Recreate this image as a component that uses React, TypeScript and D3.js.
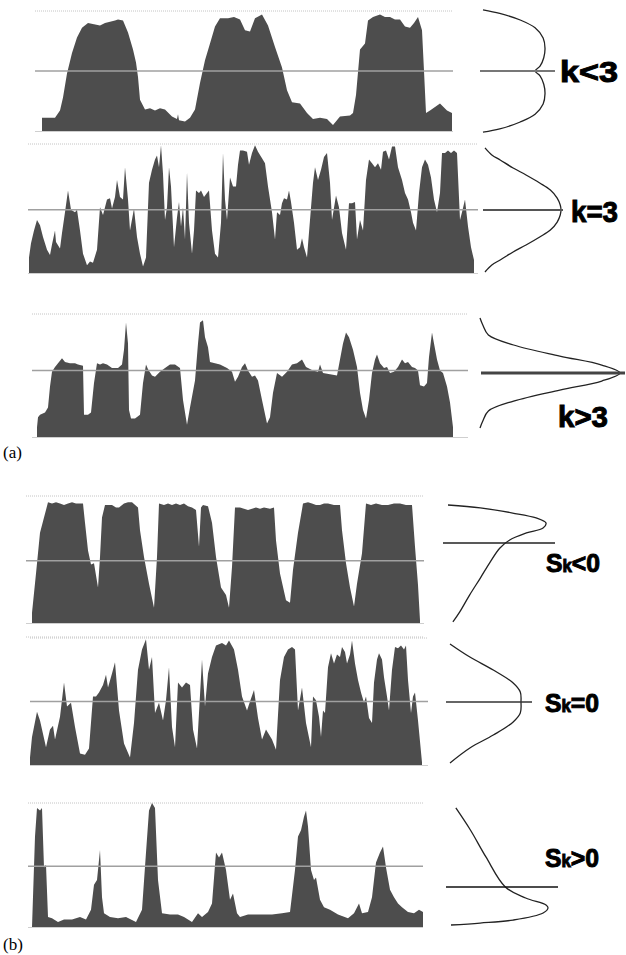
import React from "react";
import * as d3 from "d3";

// series values: [sample index, level 0..1]
const kLess3: [number, number][] = [
  [0, 0.11], [13, 0.11], [18, 0.17], [21, 0.28], [25, 0.48], [30, 0.65], [35, 0.78], [40, 0.86], [46, 0.9],
  [52, 0.89], [58, 0.88], [63, 0.9], [68, 0.91], [73, 0.92], [76, 0.93], [81, 0.92], [86, 0.82], [91, 0.68],
  [94, 0.57], [96, 0.45], [98, 0.26], [103, 0.18], [108, 0.19], [113, 0.17], [118, 0.19], [123, 0.18],
  [130, 0.12], [135, 0.1], [136, 0.14], [137, 0.09], [143, 0.08], [148, 0.11], [153, 0.18], [158, 0.4],
  [163, 0.59], [168, 0.73], [173, 0.87], [178, 0.94], [186, 0.94], [192, 0.95], [198, 0.93], [203, 0.84],
  [208, 0.83], [213, 0.94], [220, 0.97], [226, 0.88], [233, 0.7], [240, 0.53], [245, 0.34], [250, 0.24],
  [258, 0.23], [265, 0.15], [271, 0.1], [278, 0.11], [285, 0.1], [291, 0.05], [298, 0.12], [308, 0.13],
  [311, 0.15], [314, 0.3], [318, 0.68], [323, 0.73], [326, 0.92], [331, 0.95], [338, 0.97], [343, 0.95],
  [348, 0.95], [353, 0.93], [358, 0.93], [363, 0.87], [368, 0.86], [372, 0.9], [376, 0.95], [380, 0.84],
  [382, 0.5], [384, 0.15], [388, 0.17], [393, 0.2], [398, 0.23], [405, 0.17], [410, 0.15],
];

const kEqual3: [number, number][] = [
  [0, 0.12], [2, 0.23], [5, 0.33], [8, 0.41], [11, 0.37], [14, 0.28], [18, 0.18], [21, 0.14], [23, 0.22],
  [26, 0.33], [27, 0.24], [31, 0.19], [33, 0.31], [36, 0.47], [39, 0.64], [42, 0.49], [46, 0.47], [48, 0.49],
  [51, 0.33], [54, 0.15], [58, 0.06], [61, 0.09], [64, 0.08], [68, 0.18], [71, 0.51], [74, 0.45], [78, 0.57],
  [81, 0.58], [83, 0.5], [86, 0.59], [88, 0.72], [91, 0.59], [94, 0.57], [96, 0.82], [99, 0.57], [101, 0.33],
  [105, 0.5], [108, 0.28], [111, 0.15], [114, 0.05], [117, 0.12], [120, 0.7], [123, 0.8], [126, 0.88],
  [128, 0.91], [130, 0.82], [132, 0.99], [134, 0.77], [136, 0.41], [138, 0.51], [140, 0.82], [142, 0.67],
  [145, 0.2], [148, 0.43], [150, 0.55], [152, 0.36], [154, 0.51], [156, 0.26], [158, 0.78], [160, 0.39],
  [163, 0.15], [165, 0.33], [167, 0.64], [170, 0.62], [172, 0.64], [175, 0.59], [178, 0.62], [180, 0.64],
  [183, 0.33], [186, 0.15], [189, 0.12], [192, 0.39], [194, 0.93], [196, 0.57], [198, 0.41], [201, 0.74],
  [204, 0.67], [207, 0.67], [209, 0.84], [211, 0.95], [214, 0.95], [218, 0.94], [220, 0.84], [223, 0.93],
  [226, 0.99], [229, 0.94], [233, 0.89], [236, 0.85], [239, 0.67], [243, 0.47], [246, 0.26], [248, 0.47],
  [251, 0.45], [253, 0.54], [255, 0.58], [258, 0.57], [260, 0.64], [262, 0.55], [265, 0.39], [268, 0.18],
  [271, 0.2], [273, 0.27], [275, 0.2], [278, 0.12], [281, 0.41], [284, 0.7], [286, 0.82], [289, 0.72],
  [292, 0.8], [295, 0.9], [298, 0.93], [301, 0.7], [303, 0.41], [307, 0.6], [310, 0.51], [313, 0.31],
  [317, 0.18], [320, 0.54], [323, 0.54], [326, 0.55], [328, 0.26], [331, 0.41], [334, 0.33], [337, 0.72],
  [340, 0.88], [343, 0.85], [346, 0.82], [349, 0.85], [352, 0.8], [354, 0.94], [357, 0.95], [360, 0.88],
  [363, 0.98], [366, 0.98], [369, 0.82], [373, 0.72], [376, 0.62], [379, 0.57], [382, 0.47], [384, 0.39],
  [387, 0.33], [390, 0.62], [393, 0.82], [396, 0.88], [399, 0.84], [402, 0.74], [405, 0.57], [408, 0.47],
  [411, 0.62], [413, 0.93], [416, 0.93], [419, 0.95], [422, 0.93], [425, 0.95], [428, 0.93], [431, 0.41],
  [433, 0.47], [436, 0.57], [439, 0.36], [442, 0.2], [445, 0.1],
];

const kMore3: [number, number][] = [
  [0, 0.08], [1, 0.16], [3, 0.18], [8, 0.2], [11, 0.24], [13, 0.41], [15, 0.53], [18, 0.57], [21, 0.6],
  [25, 0.64], [28, 0.61], [33, 0.6], [38, 0.6], [41, 0.59], [46, 0.58], [47, 0.18], [51, 0.18], [54, 0.2],
  [57, 0.44], [60, 0.6], [63, 0.59], [66, 0.6], [70, 0.59], [75, 0.56], [81, 0.56], [85, 0.59], [87, 0.71],
  [89, 0.93], [91, 0.76], [92, 0.22], [94, 0.15], [98, 0.15], [103, 0.18], [106, 0.44], [109, 0.59],
  [111, 0.55], [115, 0.5], [118, 0.49], [123, 0.53], [128, 0.56], [133, 0.59], [138, 0.59], [143, 0.56],
  [146, 0.3], [150, 0.1], [153, 0.24], [158, 0.46], [161, 0.76], [163, 0.93], [166, 0.95], [168, 0.81],
  [171, 0.73], [173, 0.61], [178, 0.6], [183, 0.59], [190, 0.56], [195, 0.53], [198, 0.45], [201, 0.49],
  [205, 0.57], [208, 0.6], [211, 0.54], [215, 0.49], [218, 0.5], [221, 0.46], [225, 0.3], [230, 0.11],
  [233, 0.16], [236, 0.36], [240, 0.52], [245, 0.49], [250, 0.53], [255, 0.59], [260, 0.6], [265, 0.63],
  [269, 0.57], [276, 0.54], [281, 0.53], [283, 0.59], [286, 0.52], [293, 0.51], [300, 0.5], [303, 0.63],
  [306, 0.76], [309, 0.85], [312, 0.81], [316, 0.71], [320, 0.57], [323, 0.36], [326, 0.22], [329, 0.15],
  [332, 0.3], [335, 0.52], [338, 0.63], [340, 0.67], [343, 0.6], [347, 0.56], [350, 0.57], [353, 0.52],
  [357, 0.53], [361, 0.57], [365, 0.63], [368, 0.6], [371, 0.61], [375, 0.57], [378, 0.56], [381, 0.54],
  [383, 0.42], [387, 0.41], [390, 0.44], [392, 0.65], [395, 0.85], [397, 0.76], [400, 0.63], [403, 0.54],
  [406, 0.52], [410, 0.41], [413, 0.28], [416, 0.08],
];

const skLess0: [number, number][] = [
  [0, 0.08], [4, 0.39], [8, 0.71], [12, 0.83], [16, 0.95], [20, 0.94], [24, 0.95], [28, 0.94], [32, 0.93],
  [36, 0.94], [40, 0.95], [44, 0.94], [48, 0.94], [51, 0.94], [53, 0.79], [56, 0.57], [59, 0.46], [62, 0.47],
  [66, 0.28], [68, 0.52], [70, 0.83], [73, 0.93], [80, 0.93], [84, 0.91], [87, 0.91], [92, 0.94], [96, 0.95],
  [100, 0.95], [106, 0.91], [108, 0.73], [112, 0.52], [117, 0.31], [122, 0.12], [125, 0.52], [127, 0.94],
  [132, 0.93], [136, 0.94], [140, 0.93], [144, 0.94], [148, 0.93], [152, 0.94], [156, 0.92], [160, 0.91],
  [164, 0.89], [167, 0.6], [169, 0.91], [171, 0.93], [176, 0.92], [180, 0.79], [184, 0.52], [189, 0.28],
  [194, 0.22], [197, 0.12], [200, 0.44], [203, 0.91], [208, 0.91], [212, 0.9], [216, 0.89], [220, 0.9],
  [224, 0.91], [228, 0.9], [232, 0.91], [238, 0.9], [242, 0.91], [244, 0.65], [248, 0.39], [254, 0.18],
  [258, 0.16], [261, 0.42], [266, 0.71], [271, 0.94], [276, 0.95], [280, 0.94], [284, 0.93], [288, 0.93],
  [292, 0.94], [296, 0.94], [302, 0.93], [308, 0.93], [310, 0.73], [314, 0.47], [318, 0.28], [322, 0.13],
  [325, 0.31], [330, 0.55], [334, 0.94], [339, 0.93], [344, 0.94], [350, 0.93], [356, 0.93], [362, 0.94],
  [368, 0.94], [374, 0.93], [380, 0.93], [383, 0.6], [386, 0.3], [388, 0.02],
];

const skEqual0: [number, number][] = [
  [0, 0.06], [2, 0.22], [7, 0.42], [10, 0.35], [16, 0.14], [20, 0.28], [23, 0.31], [25, 0.2], [30, 0.38],
  [34, 0.65], [37, 0.46], [41, 0.49], [45, 0.3], [50, 0.09], [55, 0.08], [59, 0.13], [63, 0.54], [66, 0.54],
  [69, 0.57], [73, 0.63], [76, 0.71], [78, 0.61], [82, 0.72], [85, 0.81], [89, 0.43], [94, 0.17], [100, 0.06],
  [104, 0.33], [108, 0.75], [112, 0.91], [116, 0.99], [119, 0.75], [122, 0.85], [125, 0.41], [129, 0.49],
  [133, 0.35], [136, 0.51], [139, 0.77], [142, 0.3], [145, 0.14], [148, 0.65], [152, 0.61], [156, 0.65],
  [160, 0.63], [163, 0.28], [167, 0.13], [172, 0.83], [175, 0.46], [178, 0.72], [182, 0.85], [186, 0.94],
  [192, 0.96], [196, 0.94], [199, 0.98], [204, 0.91], [208, 0.75], [212, 0.54], [217, 0.43], [220, 0.5],
  [224, 0.59], [228, 0.37], [232, 0.2], [236, 0.28], [242, 0.2], [246, 0.12], [250, 0.67], [254, 0.85],
  [258, 0.91], [262, 0.93], [265, 0.91], [268, 0.43], [272, 0.61], [276, 0.33], [281, 0.14], [283, 0.54],
  [286, 0.51], [289, 0.38], [291, 0.22], [293, 0.43], [295, 0.41], [298, 0.77], [301, 0.88], [304, 0.8],
  [307, 0.87], [310, 0.85], [312, 0.93], [315, 0.89], [317, 0.8], [320, 0.87], [322, 0.98], [325, 0.8],
  [328, 0.67], [331, 0.57], [334, 0.49], [336, 0.54], [339, 0.37], [342, 0.33], [344, 0.65], [347, 0.83],
  [349, 0.88], [352, 0.83], [354, 0.69], [357, 0.54], [359, 0.43], [362, 0.75], [365, 0.93], [368, 0.92],
  [371, 0.94], [374, 0.91], [376, 0.94], [378, 0.67], [381, 0.41], [383, 0.54], [385, 0.57], [388, 0.35],
  [392, 0.02],
];

const skMore0: [number, number][] = [
  [0, 0], [3, 0.73], [5, 0.96], [8, 0.94], [10, 0.96], [12, 0.48], [14, 0.5], [16, 0.08], [20, 0.07],
  [26, 0.04], [32, 0.06], [40, 0.06], [48, 0.08], [54, 0.06], [59, 0.14], [62, 0.34], [65, 0.38], [68, 0.62],
  [70, 0.24], [72, 0.11], [78, 0.08], [86, 0.07], [94, 0.08], [104, 0.04], [110, 0.14], [114, 0.6],
  [117, 0.94], [120, 1.0], [123, 0.96], [126, 0.38], [130, 0.11], [138, 0.1], [146, 0.1], [152, 0.08],
  [160, 0.04], [166, 0.11], [170, 0.08], [176, 0.12], [180, 0.19], [184, 0.6], [187, 0.56], [190, 0.6],
  [194, 0.46], [198, 0.22], [201, 0.27], [205, 0.11], [208, 0.08], [216, 0.1], [228, 0.1], [240, 0.1],
  [250, 0.11], [258, 0.12], [263, 0.46], [266, 0.73], [269, 0.78], [272, 0.89], [274, 0.94], [276, 0.81],
  [279, 0.46], [282, 0.38], [284, 0.4], [288, 0.22], [292, 0.16], [298, 0.14], [306, 0.1], [316, 0.07],
  [322, 0.11], [327, 0.19], [330, 0.11], [336, 0.12], [340, 0.24], [344, 0.52], [348, 0.6], [351, 0.65],
  [354, 0.48], [358, 0.3], [362, 0.24], [366, 0.19], [370, 0.16], [376, 0.12], [382, 0.11], [387, 0.14],
  [391, 0.12],
];

// mean level (drawn as the grey middle line)
const meanLevels = [0.5, 0.49, 0.54, 0.49, 0.5, 0.49];

// distribution curves: [level, density 0..1]
const distKLess3: [number, number][] = [
  [1.01, 0], [0.98, 0.27], [0.925, 0.6], [0.86, 0.84], [0.775, 0.97], [0.69, 1.0], [0.61, 0.98],
  [0.54, 0.92], [0.5, 0.84], [0.46, 0.92], [0.39, 0.98], [0.31, 1.0], [0.225, 0.97], [0.14, 0.84],
  [0.075, 0.6], [0.017, 0.27], [-0.01, 0],
];
const distKEqual3: [number, number][] = [
  [0.97, 0], [0.915, 0.09], [0.876, 0.2], [0.814, 0.37], [0.76, 0.54], [0.698, 0.72], [0.643, 0.86],
  [0.581, 0.95], [0.527, 0.99], [0.488, 1], [0.45, 0.99], [0.395, 0.95], [0.333, 0.86], [0.279, 0.72],
  [0.217, 0.54], [0.163, 0.37], [0.101, 0.2], [0.062, 0.09], [0.008, 0],
];
const distKMore3: [number, number][] = [
  [0.967, 0], [0.91, 0.02], [0.829, 0.06], [0.748, 0.24], [0.658, 0.57], [0.585, 0.87], [0.52, 1],
  [0.455, 0.87], [0.382, 0.57], [0.292, 0.24], [0.211, 0.06], [0.13, 0.02], [0.073, 0],
];
const distSkLess0: [number, number][] = [
  [0.929, 0], [0.906, 0.33], [0.866, 0.66], [0.827, 0.9], [0.787, 1.0], [0.748, 0.97], [0.709, 0.8],
  [0.654, 0.63], [0.591, 0.53], [0.48, 0.43], [0.354, 0.33], [0.22, 0.22], [0.087, 0.12], [0.008, 0.05],
];
const distSkEqual0: [number, number][] = [
  [0.953, 0], [0.85, 0.28], [0.748, 0.61], [0.646, 0.89], [0.575, 0.99], [0.496, 1], [0.409, 0.99],
  [0.339, 0.89], [0.236, 0.61], [0.134, 0.28], [0.016, 0],
];
const distSkMore0: [number, number][] = [
  [0.96, 0.05], [0.782, 0.2], [0.565, 0.36], [0.323, 0.56], [0.234, 0.77], [0.177, 0.98], [0.153, 1],
  [0.113, 0.95], [0.056, 0.64], [0.032, 0.3], [0.016, 0],
];

// level of the horizontal marker through each distribution
const markerLevels = [0.5, 0.488, 0.52, 0.63, 0.496, 0.323];

const labels = ["k<3", "k=3", "k>3", "Sk<0", "Sk=0", "Sk>0"];
const groupLabels = ["(a)", "(b)"];

const series = [kLess3, kEqual3, kMore3, skLess0, skEqual0, skMore0];
const dists = [distKLess3, distKEqual3, distKMore3, distSkLess0, distSkEqual0, distSkMore0];

// layout for each panel
const panels = [
  { x0: 42, x1: 452, lx0: 35, lx1: 453, top: 11, bottom: 131, cx: 483, cw: 62, mx: [480, 555], mColor: "#777", mW: 2,
    lab: { x: 560, y: 82, w: 58, size: 30 } },
  { x0: 29, x1: 474, lx0: 28, lx1: 478, top: 144, bottom: 273, cx: 485, cw: 76, mx: [483, 563], mColor: "#555", mW: 2,
    lab: { x: 571, y: 222, w: 47, size: 30 } },
  { x0: 37, x1: 453, lx0: 32, lx1: 468, top: 314, bottom: 437, cx: 480, cw: 140, mx: [481, 625], mColor: "#444", mW: 3,
    lab: { x: 558, y: 427, w: 50, size: 30 } },
  { x0: 32, x1: 420, lx0: 26, lx1: 424, top: 496, bottom: 623, cx: 448, cw: 98, mx: [443, 555], mColor: "#222", mW: 1.5,
    lab: { x: 546, y: 572, w: 54, size: 26 }, extra: 637 },
  { x0: 30, x1: 422, lx0: 30, lx1: 428, top: 638, bottom: 765, cx: 450, cw: 71, mx: [446, 532], mColor: "#333", mW: 1.5,
    lab: { x: 545, y: 712, w: 54, size: 26 } },
  { x0: 32, x1: 423, lx0: 28, lx1: 423, top: 803, bottom: 927, cx: 451, cw: 97, mx: [446, 558], mColor: "#111", mW: 1.5,
    lab: { x: 545, y: 867, w: 54, size: 26 } },
];

const Panel = ({ i }: { i: number }) => {
  const p = panels[i];
  const data = series[i];
  const x = d3.scaleLinear().domain([0, d3.max(data, (d) => d[0]) as number]).range([p.x0, p.x1]);
  const y = d3.scaleLinear().domain([0, 1]).range([p.bottom, p.top]);
  const dx = d3.scaleLinear().domain([0, 1]).range([p.cx, p.cx + p.cw]);

  const area = d3
    .area<[number, number]>()
    .x((d) => x(d[0]))
    .y0(p.bottom)
    .y1((d) => y(d[1]));

  const curve = d3
    .line<[number, number]>()
    .x((d) => dx(d[1]))
    .y((d) => y(d[0]))
    .curve(d3.curveCatmullRom.alpha(0.5));

  const label = labels[i];
  const isSk = label.startsWith("S");

  return (
    <g>
      <line x1={p.lx0} x2={p.lx1} y1={p.top} y2={p.top} stroke="#c4c4c4" strokeWidth={1} strokeDasharray="1,1" />
      <path d={area(data) || ""} fill="#4d4d4d" />
      <line x1={p.lx0} x2={p.lx1} y1={p.bottom + 0.5} y2={p.bottom + 0.5} stroke="#cfcfcf" strokeWidth={1} />
      {p.extra && (
        <line x1={p.lx0} x2={p.lx1} y1={p.extra} y2={p.extra} stroke="#c4c4c4" strokeWidth={1} strokeDasharray="1,1" />
      )}
      <line x1={p.lx0} x2={p.lx1} y1={y(meanLevels[i])} y2={y(meanLevels[i])} stroke="#a0a0a0" strokeWidth={1.5} />
      <path d={curve(dists[i]) || ""} fill="none" stroke="#222" strokeWidth={1.3} />
      <line x1={p.mx[0]} x2={p.mx[1]} y1={y(markerLevels[i])} y2={y(markerLevels[i])} stroke={p.mColor} strokeWidth={p.mW} />
      <text
        x={p.lab.x}
        y={p.lab.y}
        fontFamily="'Liberation Sans', Arial, sans-serif"
        fontWeight="bold"
        fontSize={p.lab.size}
        textLength={p.lab.w}
        lengthAdjust="spacingAndGlyphs"
        fill="#000"
        stroke="#000"
        strokeWidth={1}
      >
        {isSk ? (
          <>
            S<tspan fontSize={p.lab.size * 0.68}>k</tspan>
            {label.slice(2)}
          </>
        ) : (
          label
        )}
      </text>
    </g>
  );
};

export default function App() {
  return (
    <svg
      width={626}
      height={955}
      style={{ position: "absolute", left: 0, top: 0, background: "#fff" }}
    >
      {panels.map((_, i) => (
        <Panel key={i} i={i} />
      ))}
      <text x={3} y={458} fontFamily="'Liberation Serif', 'Times New Roman', serif" fontSize={17}>
        {groupLabels[0]}
      </text>
      <text x={3} y={950} fontFamily="'Liberation Serif', 'Times New Roman', serif" fontSize={17}>
        {groupLabels[1]}
      </text>
    </svg>
  );
}
